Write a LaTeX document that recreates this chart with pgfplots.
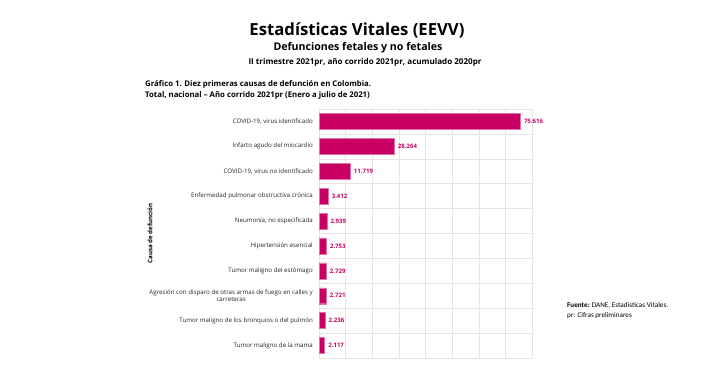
\documentclass[border=0pt]{standalone}
\usepackage{fontspec}
\setmainfont{Open Sans}
\newfontfamily\carlito{Carlito}
\usepackage{pgfplots}
\pgfplotsset{compat=1.18}
\definecolor{barmag}{RGB}{200,0,100}
\begin{document}
\begin{tikzpicture}
\useasboundingbox (0,0) rectangle (706bp,392bp);
\fill[white] (0,0) rectangle (706bp,392bp);
\node[inner sep=0] at (357bp,362bp) {\resizebox{215bp}{!}{\bfseries Estadísticas Vitales (EEVV)}};
\node[inner sep=0] at (358bp,344bp) {\resizebox{169bp}{!}{\bfseries Defunciones fetales y no fetales}};
\node[inner sep=0] at (365bp,330bp) {\resizebox{233bp}{!}{\bfseries II trimestre 2021pr, año corrido 2021pr, acumulado 2020pr}};
\node[inner sep=0, anchor=west, font=\fontsize{7.8}{9}\selectfont\bfseries] at (145bp,308bp) {Gráfico 1. Diez primeras causas de defunción en Colombia.};
\node[inner sep=0, anchor=west, font=\fontsize{7.8}{9}\selectfont\bfseries] at (145bp,297bp) {Total, nacional – Año corrido 2021pr (Enero a julio de 2021)};
\node[inner sep=0, anchor=west, font=\carlito\fontsize{7.2}{8}\selectfont] at (567bp,87bp) {\textbf{Fuente:} DANE, Estadísticas Vitales.};
\node[inner sep=0, anchor=west, font=\carlito\fontsize{7.2}{8}\selectfont] at (567bp,76bp) {pr: Cifras preliminares};
\begin{axis}[
 scale only axis, width=213bp, height=249bp,
 at={(319bp,34bp)}, anchor=south west,
 xbar, bar width=0.64,
 xmin=0, xmax=80000, ymin=-0.5, ymax=9.5, y dir=reverse,
 xtick={0,10000,...,80000}, xticklabels={}, scaled x ticks=false, xmajorgrids,
 ytick={0,...,9},
 yticklabels={{COVID-19, virus identificado}, Infarto agudo del miocardio, {COVID-19, virus no identificado}, Enfermedad pulmonar obstructiva crónica, {Neumonía, no especificada}, Hipertensión esencial, Tumor maligno del estómago, {Agresión con disparo de otras armas de fuego en calles y\\carreteras}, Tumor maligno de los bronquios o del pulmón, Tumor maligno de la mama},
 minor ytick={-0.5,0.5,...,9.5}, yminorgrids,
 major tick length=0, minor tick length=0,
 axis line style={draw=none},
 grid style={black!10, line width=0.4bp},
 minor grid style={black!10, line width=0.4bp},
 yticklabel style={font=\fontsize{6.2}{7.4}\selectfont, align=center, text=black!85, inner xsep=0pt, xshift=-6bp},
 ylabel={Causa de defunción},
 ylabel style={font=\fontsize{6.2}{7.4}\selectfont\bfseries, at={(axis description cs:-0.793,0.5)}, anchor=center},
 nodes near coords, point meta=x,
 nodes near coords style={font=\fontsize{6.1}{7.2}\selectfont\bfseries, text=barmag, anchor=west, inner xsep=0pt, xshift=3.5bp},
 /pgf/number format/.cd, assume math mode=true, 1000 sep={.}
]
\addplot[fill=barmag, draw=barmag!55!white, line width=0.4bp] coordinates {
 (75616,0) (28264,1) (11719,2) (3412,3) (2939,4) (2753,5) (2729,6) (2721,7) (2236,8) (2117,9)};
\end{axis}
\end{tikzpicture}
\end{document}
